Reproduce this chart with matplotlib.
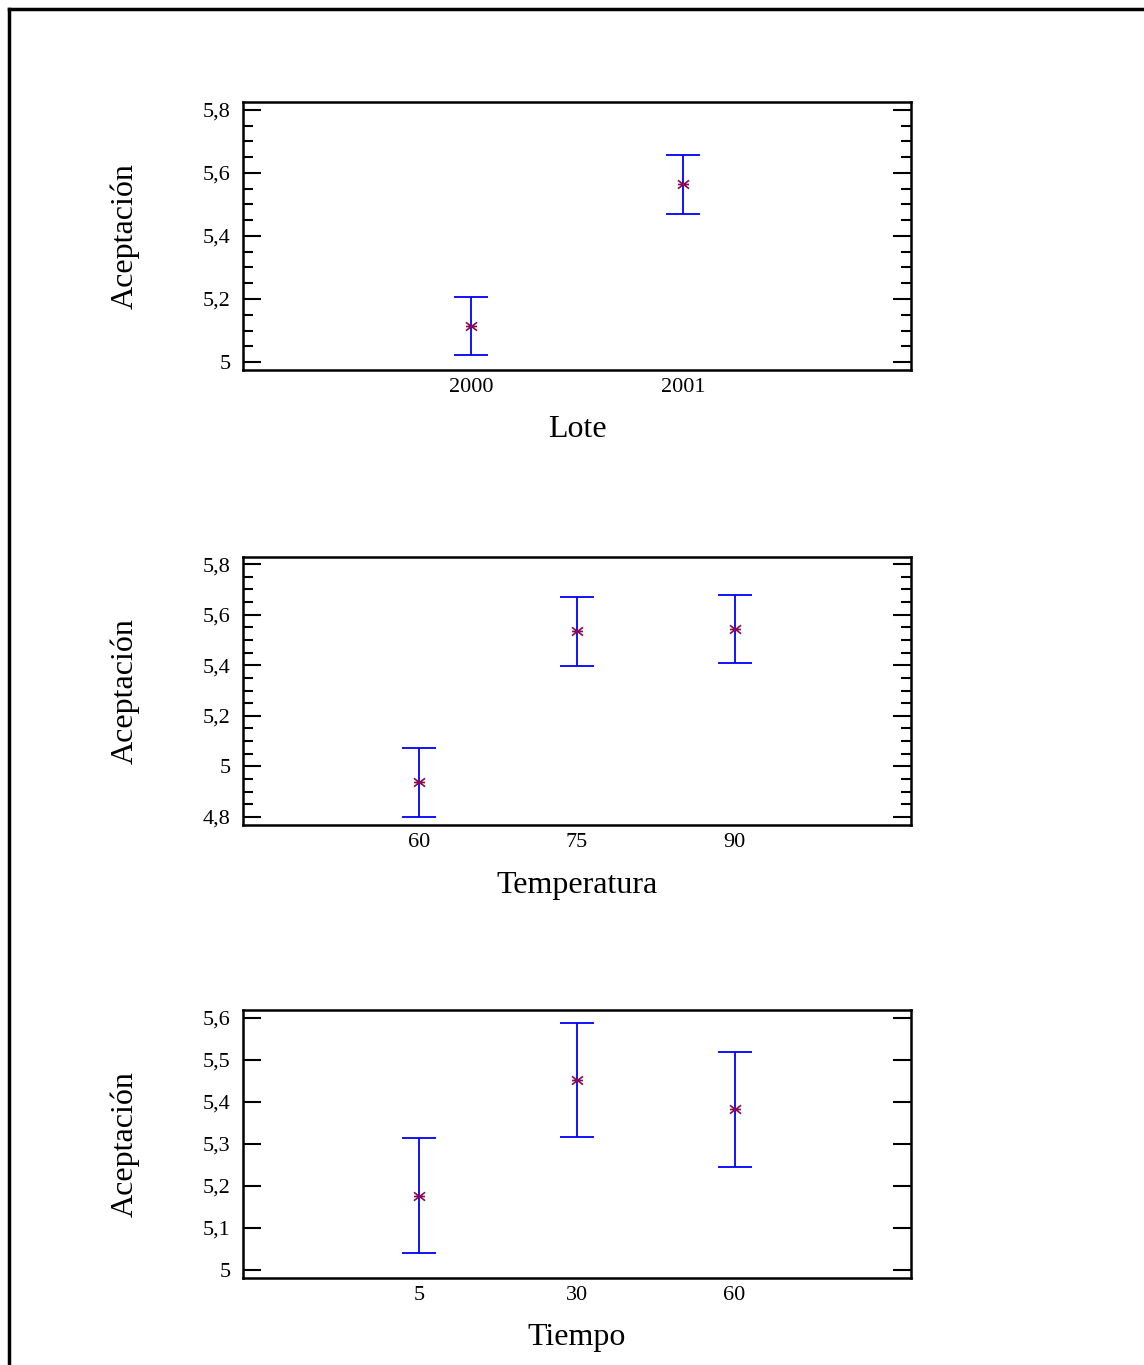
import numpy as np
import matplotlib.pyplot as plt
from matplotlib.path import Path
from matplotlib.lines import Line2D
from matplotlib.ticker import FuncFormatter, MultipleLocator

plt.rcParams['font.family'] = ['Liberation Serif', 'DejaVu Serif']

# group means and interval limits
lote = ['2000', '2001']
lote_mean = [5.114, 5.565]
lote_low = [5.022, 5.470]
lote_high = [5.206, 5.657]

temp = ['60', '75', '90']
temp_mean = [4.939, 5.534, 5.542]
temp_low = [4.800, 5.399, 5.407]
temp_high = [5.074, 5.669, 5.677]

tiempo = ['5', '30', '60']
tiempo_mean = [5.177, 5.452, 5.383]
tiempo_low = [5.041, 5.316, 5.246]
tiempo_high = [5.313, 5.589, 5.519]

panels = [
    (lote, lote_mean, lote_low, lote_high, 'Lote', (4.975, 5.825), 0.2, 0.05, 0.9253),
    (temp, temp_mean, temp_low, temp_high, 'Temperatura', (4.768, 5.828), 0.2, 0.05, 0.5919),
    (tiempo, tiempo_mean, tiempo_low, tiempo_high, 'Tiempo', (4.981, 5.619), 0.1, None, 0.2601),
]

# asterisk: X plus a horizontal bar
star = Path([(-1, -0.75), (1, 0.75), (-1, 0.75), (1, -0.75), (-1, 0), (1, 0)],
            [Path.MOVETO, Path.LINETO, Path.MOVETO, Path.LINETO, Path.MOVETO, Path.LINETO])

comma = FuncFormatter(lambda v, p: ('%g' % round(v, 3)).replace('.', ','))

fig = plt.figure(figsize=(11.44, 13.65), dpi=100)

for cats, mean, low, high, name, ylim, major, minor, top in panels:
    ax = fig.add_axes([0.2124, top - 0.1963, 0.5839, 0.1963])
    x = np.arange(len(cats))
    mean = np.array(mean)
    err = [mean - np.array(low), np.array(high) - mean]
    ax.errorbar(x, mean, yerr=err, fmt='none', ecolor='#0000ff', elinewidth=1.3,
                capsize=12, capthick=1.3)
    ax.plot(x, mean, linestyle='none', marker=star, markersize=8,
            markeredgecolor='#8b0a50', markeredgewidth=1.2, color='#8b0a50')
    pad = 1.075 if len(cats) == 2 else 1.12
    ax.set_xlim(-pad, len(cats) - 1 + pad)
    ax.set_ylim(*ylim)
    ax.set_xticks(x)
    ax.set_xticklabels(cats)
    ax.yaxis.set_major_locator(MultipleLocator(major))
    if minor:
        ax.yaxis.set_minor_locator(MultipleLocator(minor))
    ax.yaxis.set_major_formatter(comma)
    ax.tick_params(axis='y', which='major', direction='in', length=13, width=1.5,
                   left=True, right=True, labelsize=16, pad=9)
    ax.tick_params(axis='y', which='minor', direction='in', length=7, width=1.5,
                   left=True, right=True)
    ax.tick_params(axis='x', length=0, labelsize=16, pad=6)
    for s in ax.spines.values():
        s.set_linewidth(1.8)
    ax.set_xlabel(name, fontsize=23)
    ax.set_ylabel('Aceptación', fontsize=23)
    ax.xaxis.set_label_coords(0.5, -0.17)
    ax.yaxis.set_label_coords(-0.155, 0.5)

# outer frame: only top and left edges show
fig.add_artist(Line2D([0.0079, 1.0], [0.9934, 0.9934], color='black', lw=2.5))
fig.add_artist(Line2D([0.0079, 0.0079], [0.0, 0.9934], color='black', lw=2.5))

fig.savefig('out.png', dpi=100)
